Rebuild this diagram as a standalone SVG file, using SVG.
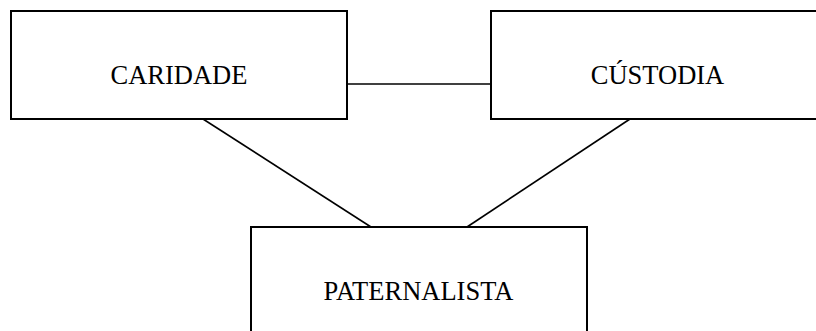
<svg xmlns="http://www.w3.org/2000/svg" width="816" height="331" viewBox="0 0 816 331">
  <style>
    .box { fill: #ffffff; stroke: #000000; stroke-width: 2; }
    .link { stroke: #000000; stroke-width: 1.6; fill: none; }
    .label { font-family: "Liberation Serif", "Times New Roman", serif; font-size: 26.5px; fill: #000000; text-anchor: middle; }
  </style>
  <rect width="816" height="331" fill="#ffffff"/>
  <g id="connectors">
    <line class="link" x1="347" y1="84" x2="491" y2="84"/>
    <line class="link" x1="203" y1="119" x2="371" y2="227"/>
    <line class="link" x1="630" y1="119" x2="467" y2="227"/>
  </g>
  <g id="caridade">
    <rect class="box" x="11" y="11" width="336" height="108"/>
    <text class="label" x="179" y="84">CARIDADE</text>
  </g>
  <g id="custodia">
    <rect class="box" x="491" y="11" width="340" height="108"/>
    <text class="label" x="657.5" y="84">CÚSTODIA</text>
  </g>
  <g id="paternalista">
    <rect class="box" x="251" y="227" width="336" height="120"/>
    <text class="label" x="418.5" y="300">PATERNALISTA</text>
  </g>
</svg>
